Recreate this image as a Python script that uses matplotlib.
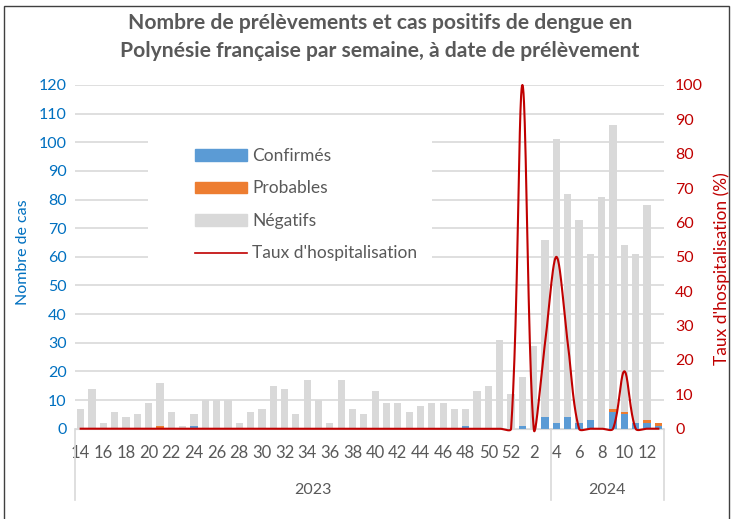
import numpy as np
import matplotlib
matplotlib.use("Agg")
import matplotlib.pyplot as plt
from matplotlib.patches import Rectangle
from matplotlib.lines import Line2D

plt.rcParams['font.family'] = ['Lato', 'DejaVu Sans']

# semaines (2023: 14..52 puis 1..3, 2024: 4..13)
weeks = list(range(14, 53)) + list(range(1, 14))
years = ['2023', '2024']
year_split = 42  # index of first category in the 2024 group

# stacked bars (number of cases)
confirmes = [0, 0, 0, 0, 0, 0, 0, 0, 0, 0, 1, 0, 0, 0, 0, 0, 0, 0, 0, 0,
             0, 0, 0, 0, 0, 0, 0, 0, 0, 0, 0, 0, 0, 0, 1, 0, 0, 0, 0, 1,
             0, 4, 2, 4, 2, 3, 0, 6, 5, 2, 2, 1]
probables = [0, 0, 0, 0, 0, 0, 0, 1, 0, 0, 0, 0, 0, 0, 0, 0, 0, 0, 0, 0,
             0, 0, 0, 0, 0, 0, 0, 0, 0, 0, 0, 0, 0, 0, 0, 0, 0, 0, 0, 0,
             0, 0, 0, 0, 0, 0, 0, 1, 1, 0, 1, 1]
totaux = [7, 14, 2, 6, 4, 5, 9, 16, 6, 1, 5, 10, 10, 10, 2, 6, 7, 15, 14, 5,
          17, 10, 2, 17, 7, 5, 13, 9, 9, 6, 8, 9, 9, 7, 7, 13, 15, 31, 12, 18,
          29, 66, 101, 82, 73, 61, 81, 106, 64, 61, 78, 2]
negatifs = [t - c - p for t, c, p in zip(totaux, confirmes, probables)]

# taux d'hospitalisation (%)
taux_hosp = [0] * 39 + [100, 0, 25, 50, 25, 0, 0, 0, 0, 16.7, 0, 0, 0]

BLUE = '#5B9BD5'
ORANGE = '#ED7D31'
GREY = '#D9D9D9'
RED = '#C00000'
AXBLUE = '#0070C0'
TXT = '#595959'

W, H = 734, 519
AX_L, AX_R, AX_T, AX_B = 75, 664, 85, 428.7
n = len(weeks)
px_x = (AX_R - AX_L) / n          # pixels per category
px_y = (AX_B - AX_T) / 100.0      # pixels per % on the right axis


def smooth(y, steps=40):
    # Excel-like smoothed line: Bezier segments, control points scaled by chord length (in pixels)
    P = np.column_stack([np.arange(len(y)) * px_x, np.asarray(y, float) * px_y])
    m = len(P)
    cin = P.copy()
    cout = P.copy()
    for i in range(m):
        a = P[max(i - 1, 0)]
        b = P[min(i + 1, m - 1)]
        d1 = np.hypot(*(P[i] - a))
        d2 = np.hypot(*(b - P[i]))
        if d1 + d2 == 0:
            continue
        T = b - a
        cin[i] = P[i] - T * d1 / (d1 + d2) / 3
        cout[i] = P[i] + T * d2 / (d1 + d2) / 3
    t = np.linspace(0, 1, steps)[:, None]
    pts = []
    for i in range(m - 1):
        seg = ((1 - t) ** 3 * P[i] + 3 * (1 - t) ** 2 * t * cout[i]
               + 3 * (1 - t) * t ** 2 * cin[i + 1] + t ** 3 * P[i + 1])
        pts.append(seg)
    pts = np.vstack(pts)
    return pts[:, 0] / px_x, pts[:, 1] / px_y


fig = plt.figure(figsize=(7.34, 5.19), dpi=100)
ax = fig.add_axes([AX_L / W, 1 - AX_B / H, (AX_R - AX_L) / W, (AX_B - AX_T) / H])
axh = AX_B - AX_T
axw = AX_R - AX_L

x = np.arange(n)
bw = 0.64
ax.bar(x, confirmes, bw, color=BLUE, zorder=2)
ax.bar(x, probables, bw, bottom=confirmes, color=ORANGE, zorder=2)
ax.bar(x, negatifs, bw, bottom=np.array(confirmes) + np.array(probables), color=GREY, zorder=2)

ax.set_xlim(-0.5, n - 0.5)
ax.set_ylim(0, 120)
ax.set_yticks(range(0, 121, 10))
ax.grid(axis='y', color=GREY, linewidth=1.2, zorder=0)
ax.set_axisbelow(True)
for s in ['left', 'right', 'top']:
    ax.spines[s].set_visible(False)
ax.spines['bottom'].set_color(GREY)
ax.tick_params(axis='y', length=0, colors=AXBLUE, labelsize=11.5, pad=6)
ax.set_xticks(x[::2])
ax.set_xticklabels([str(w) for w in weeks[::2]])
ax.tick_params(axis='x', length=0, colors=TXT, labelsize=12, pad=12)
ax.set_ylabel('Nombre de cas', color=AXBLUE, fontsize=11.5)
ax.yaxis.set_label_coords((30 - AX_L) / axw, (AX_B - 252) / axh)

# white legend background hiding the gridlines
ax.add_patch(Rectangle(((148 - AX_L) / axw, (AX_B - 272) / axh),
                       (432 - 148) / axw, (272 - 122) / axh,
                       transform=ax.transAxes, facecolor='white', edgecolor='none', zorder=1))

ax2 = ax.twinx()
ax2.set_ylim(0, 100)
ax2.set_yticks(range(0, 101, 10))
for s in ['left', 'right', 'top', 'bottom']:
    ax2.spines[s].set_visible(False)
ax2.tick_params(axis='y', length=0, colors=RED, labelsize=11.5, pad=8)
ax2.set_ylabel("Taux d'hospitalisation (%)", color=RED, fontsize=12.5)
ax2.yaxis.set_label_coords((713 - AX_L) / axw, (AX_B - 269) / axh)
sx, sy = smooth(taux_hosp)
ax2.plot(sx, sy, color=RED, linewidth=1.5, clip_on=False, zorder=3)

# category group separators and year labels
trans = ax.get_xaxis_transform()
for xv in [-0.5, year_split - 0.5, n - 0.5]:
    ax.add_line(Line2D([xv, xv], [0, -71 / axh], transform=trans, color=GREY,
                       linewidth=1.2, clip_on=False))
ax.text((-0.5 + year_split - 0.5) / 2, -61 / axh, years[0], transform=trans,
        ha='center', va='center', color=TXT, fontsize=11.5)
ax.text((year_split - 0.5 + n - 0.5) / 2, -61 / axh, years[1], transform=trans,
        ha='center', va='center', color=TXT, fontsize=11.5)

# legend
handles = [Rectangle((0, 0), 1, 1, color=BLUE), Rectangle((0, 0), 1, 1, color=ORANGE),
           Rectangle((0, 0), 1, 1, color=GREY), Line2D([], [], color=RED, linewidth=1.2)]
labels = ['Confirmés', 'Probables', 'Négatifs', "Taux d'hospitalisation"]
leg = ax2.legend(handles, labels, loc='upper left',
                 bbox_to_anchor=((195 - AX_L) / axw, (AX_B - 148) / axh),
                 frameon=False, fontsize=12.5, handlelength=3.0, handleheight=0.65,
                 labelspacing=0.95, borderpad=0, borderaxespad=0, handletextpad=0.3)
for t in leg.get_texts():
    t.set_color(TXT)

fig.text(380 / W, 1 - 37 / H,
         'Nombre de prélèvements et cas positifs de dengue en\nPolynésie française par semaine, à date de prélèvement',
         ha='center', va='center', fontsize=15.2, fontweight='bold', color=TXT, linespacing=1.45)

# chart border
fig.add_artist(Rectangle((4 / W, -0.05), 725 / W, 1.05 - 6 / H, transform=fig.transFigure,
                         fill=False, edgecolor='#404040', linewidth=1.0))

fig.savefig('out.png', dpi=100)
